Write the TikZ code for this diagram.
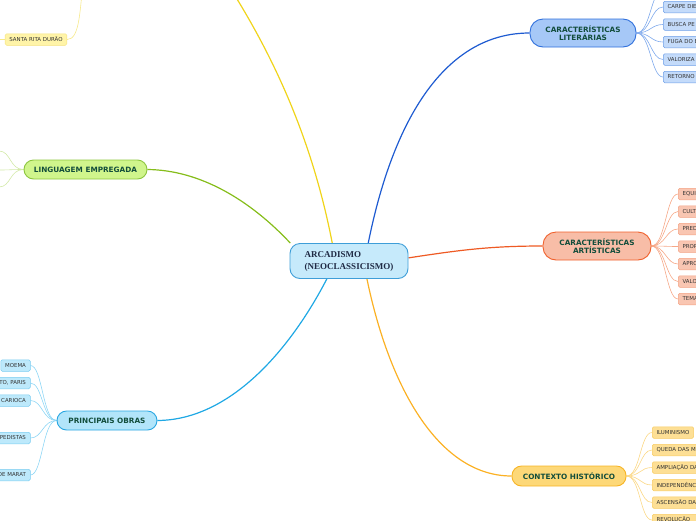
\documentclass[tikz,border=0pt]{standalone}
\usepackage{fontspec}
\setmainfont{DejaVu Sans}
\newfontfamily\hubfont{Liberation Serif}
\usepackage{xcolor}
\usepackage{tikz}
\usetikzlibrary{calc,backgrounds}
\definecolor{HubInk}{HTML}{1F2A44}
\definecolor{HubSoft}{HTML}{C6EAFB}
\definecolor{HubLine}{HTML}{3E9ED8}
\definecolor{TopicInk}{HTML}{124D3B}
\definecolor{LeafInk}{HTML}{333333}
\definecolor{LitSoft}{HTML}{A6C8F7}
\definecolor{LitLine}{HTML}{3070DC}
\definecolor{LitBranch}{HTML}{1E5BD1}
\definecolor{LitLeaf}{HTML}{C4DBFA}
\definecolor{LitEdge}{HTML}{6E9FE8}
\definecolor{LitTwig}{HTML}{7FA9EC}
\definecolor{ArtSoft}{HTML}{F8BDA7}
\definecolor{ArtLine}{HTML}{F0602C}
\definecolor{ArtBranch}{HTML}{EE5A24}
\definecolor{ArtLeaf}{HTML}{F9C6B2}
\definecolor{ArtEdge}{HTML}{F4A283}
\definecolor{ArtTwig}{HTML}{F6A888}
\definecolor{CtxSoft}{HTML}{FDD878}
\definecolor{CtxLine}{HTML}{F7B425}
\definecolor{CtxBranch}{HTML}{FBB124}
\definecolor{CtxLeaf}{HTML}{FDDF95}
\definecolor{CtxEdge}{HTML}{F8CC62}
\definecolor{CtxTwig}{HTML}{FBD886}
\definecolor{ObrSoft}{HTML}{B2E5FA}
\definecolor{ObrLine}{HTML}{2AA7E2}
\definecolor{ObrBranch}{HTML}{1FA8E4}
\definecolor{ObrLeaf}{HTML}{BDE9FB}
\definecolor{ObrEdge}{HTML}{7BCDF1}
\definecolor{ObrTwig}{HTML}{8ED6F5}
\definecolor{LngSoft}{HTML}{D0F58C}
\definecolor{LngLine}{HTML}{8DC63F}
\definecolor{LngBranch}{HTML}{86BD1B}
\definecolor{LngTwig}{HTML}{D3E9A8}
\definecolor{YelBranch}{HTML}{F0D41A}
\definecolor{YelLeaf}{HTML}{FFF4A8}
\definecolor{YelEdge}{HTML}{F5E27C}
\definecolor{YelTwig}{HTML}{F7E98A}
\tikzset{
  hub/.style={rounded corners=10pt,draw=HubLine,fill=HubSoft,line width=0.9pt,minimum width=118pt,minimum height=35pt,inner sep=0pt,align=left,font=\hubfont\bfseries\fontsize{9}{12}\selectfont,text=HubInk},
  topic/.style={rounded corners=9.5pt,line width=0.9pt,inner sep=0pt,align=center,font=\bfseries\fontsize{7.3}{8}\selectfont,text=TopicInk},
  topicblue/.style={topic,rounded corners=13pt,draw=LitLine,fill=LitSoft},
  topicsalmon/.style={topic,rounded corners=13pt,draw=ArtLine,fill=ArtSoft},
  topicgold/.style={topic,draw=CtxLine,fill=CtxSoft},
  topiccyan/.style={topic,draw=ObrLine,fill=ObrSoft},
  topiclime/.style={topic,draw=LngLine,fill=LngSoft},
  leaf/.style={rounded corners=1.5pt,line width=0.5pt,inner xsep=4.3pt,inner ysep=0pt,minimum height=11.5pt,font=\fontsize{5.45}{6}\selectfont,text=LeafInk},
  leafblue/.style={leaf,draw=LitEdge,fill=LitLeaf},
  leafsalmon/.style={leaf,draw=ArtEdge,fill=ArtLeaf},
  leafgold/.style={leaf,draw=CtxEdge,fill=CtxLeaf},
  leafcyan/.style={leaf,draw=ObrEdge,fill=ObrLeaf},
  leafyellow/.style={leaf,draw=YelEdge,fill=YelLeaf},
  cutoff/.style={anchor=west,text width=60pt,align=left},
  branch/.style={line width=1.2pt},
  twig/.style={line width=0.6pt}
}
\begin{document}
\begin{tikzpicture}[x=1pt,y=-1pt]
  \useasboundingbox (0,0) rectangle (696,520);
  \clip (0,0) rectangle (696,520);
  \node[hub] (arc) at (349,261) {ARCADISMO\\(NEOCLASSICISMO)};
  \node[topicblue,minimum width=106pt,minimum height=28pt] (lit) at (583,33) {CARACTERÍSTICAS\\LITERÁRIAS};
  \node[topicsalmon,minimum width=108pt,minimum height=28pt] (art) at (597,246) {CARACTERÍSTICAS\\ARTÍSTICAS};
  \node[topicgold,minimum width=114pt,minimum height=20pt] (cont) at (569,476) {CONTEXTO HISTÓRICO};
  \node[topiccyan,minimum width=100pt,minimum height=19pt] (obras) at (107,420.5) {PRINCIPAIS OBRAS};
  \node[topiclime,minimum width=123pt,minimum height=19pt] (ling) at (85.5,169.5) {LINGUAGEM EMPREGADA};
  \node[leafyellow] (santa) at (36,39.5) {SANTA RITA DURÃO};
  \coordinate (ytop) at (225,-20);
  \coordinate (yparent) at (84,-30);
  \coordinate (santastub) at (-6,39.5);
  \coordinate (lit0) at (663,-10.5);
  \node[leafblue,cutoff] (lit1) at (663,7) {CARPE DIE};
  \node[leafblue,cutoff] (lit2) at (663,24.5) {BUSCA PE};
  \node[leafblue,cutoff] (lit3) at (663,42) {FUGA DO E};
  \node[leafblue,cutoff] (lit4) at (663,59.5) {VALORIZA};
  \node[leafblue,cutoff] (lit5) at (663,77) {RETORNO};
  \node[leafsalmon,cutoff] (art1) at (678,194) {EQUI};
  \node[leafsalmon,cutoff] (art2) at (678,211.5) {CULT};
  \node[leafsalmon,cutoff] (art3) at (678,229) {PRED};
  \node[leafsalmon,cutoff] (art4) at (678,246.5) {PROP};
  \node[leafsalmon,cutoff] (art5) at (678,264) {APRO};
  \node[leafsalmon,cutoff] (art6) at (678,281.5) {VALO};
  \node[leafsalmon,cutoff] (art7) at (678,299) {TEMA};
  \node[leafgold,anchor=west] (cont1) at (652,432.5) {ILUMINISMO};
  \node[leafgold,cutoff] (cont2) at (652,450) {QUEDA DAS M};
  \node[leafgold,cutoff] (cont3) at (652,467.5) {AMPLIAÇÃO DA};
  \node[leafgold,cutoff] (cont4) at (652,485) {INDEPENDÊNC};
  \node[leafgold,cutoff] (cont5) at (652,502.5) {ASCENSÃO DA};
  \node[leafgold,cutoff] (cont6) at (652,520) {REVOLUÇÃO};
  \node[leafcyan,anchor=east] (ob1) at (30.5,365.5) {MOEMA};
  \node[leafcyan,anchor=east] (ob2) at (30.5,383) {TO, PARIS};
  \node[leafcyan,anchor=east] (ob3) at (30.5,400.5) {CARIOCA};
  \node[leafcyan,anchor=east] (ob4) at (30.5,438) {PEDISTAS};
  \node[leafcyan,anchor=east] (ob5) at (30.5,475) {DE MARAT};
  \coordinate (lg1) at (-1,151);
  \coordinate (lg2) at (-1,170);
  \coordinate (lg3) at (-1,187);
  \begin{scope}[on background layer]
    \clip (0,0) rectangle (696,520);
    \draw[branch,draw=LitBranch] (arc.43) .. controls (395,110) and (450,33) .. (lit.west);
    \draw[branch,draw=YelBranch] (arc.133) .. controls (318,170) and (290,80) .. (ytop);
    \draw[branch,draw=LngBranch] (arc.163) .. controls (250,200) and (200,170) .. (ling.east);
    \draw[branch,draw=ObrBranch] (arc.219) .. controls (290,350) and (230,420) .. (obras.east);
    \draw[branch,draw=CtxBranch] (arc.315) .. controls (390,390) and (440,476) .. (cont.west);
    \draw[branch,draw=ArtBranch] (arc.3) .. controls (460,250) and (490,246) .. (art.west);
    \draw[twig,draw=YelTwig] (santa.east) .. controls (80,39.5) and (80,10) .. (yparent);
    \draw[twig,draw=YelTwig] (santa.west) -- (santastub);
    \draw[twig,draw=LitTwig] (lit.east) .. controls +(14,0) and +(-12,0) .. (lit0);
    \draw[twig,draw=LitTwig] (lit.east) .. controls +(14,0) and +(-12,0) .. (lit1.west);
    \draw[twig,draw=LitTwig] (lit.east) .. controls +(14,0) and +(-12,0) .. (lit2.west);
    \draw[twig,draw=LitTwig] (lit.east) .. controls +(14,0) and +(-12,0) .. (lit3.west);
    \draw[twig,draw=LitTwig] (lit.east) .. controls +(14,0) and +(-12,0) .. (lit4.west);
    \draw[twig,draw=LitTwig] (lit.east) .. controls +(14,0) and +(-12,0) .. (lit5.west);
    \draw[twig,draw=ArtTwig] (art.east) .. controls +(14,0) and +(-12,0) .. (art1.west);
    \draw[twig,draw=ArtTwig] (art.east) .. controls +(14,0) and +(-12,0) .. (art2.west);
    \draw[twig,draw=ArtTwig] (art.east) .. controls +(14,0) and +(-12,0) .. (art3.west);
    \draw[twig,draw=ArtTwig] (art.east) .. controls +(14,0) and +(-12,0) .. (art4.west);
    \draw[twig,draw=ArtTwig] (art.east) .. controls +(14,0) and +(-12,0) .. (art5.west);
    \draw[twig,draw=ArtTwig] (art.east) .. controls +(14,0) and +(-12,0) .. (art6.west);
    \draw[twig,draw=ArtTwig] (art.east) .. controls +(14,0) and +(-12,0) .. (art7.west);
    \draw[twig,draw=CtxTwig] (cont.east) .. controls +(14,0) and +(-12,0) .. (cont1.west);
    \draw[twig,draw=CtxTwig] (cont.east) .. controls +(14,0) and +(-12,0) .. (cont2.west);
    \draw[twig,draw=CtxTwig] (cont.east) .. controls +(14,0) and +(-12,0) .. (cont3.west);
    \draw[twig,draw=CtxTwig] (cont.east) .. controls +(14,0) and +(-12,0) .. (cont4.west);
    \draw[twig,draw=CtxTwig] (cont.east) .. controls +(14,0) and +(-12,0) .. (cont5.west);
    \draw[twig,draw=CtxTwig] (cont.east) .. controls +(14,0) and +(-12,0) .. (cont6.west);
    \draw[twig,draw=ObrTwig] (obras.west) .. controls +(-14,0) and +(12,0) .. (ob1.east);
    \draw[twig,draw=ObrTwig] (obras.west) .. controls +(-14,0) and +(12,0) .. (ob2.east);
    \draw[twig,draw=ObrTwig] (obras.west) .. controls +(-14,0) and +(12,0) .. (ob3.east);
    \draw[twig,draw=ObrTwig] (obras.west) .. controls +(-14,0) and +(12,0) .. (ob4.east);
    \draw[twig,draw=ObrTwig] (obras.west) .. controls +(-14,0) and +(12,0) .. (ob5.east);
    \draw[twig,draw=LngTwig] (ling.west) .. controls +(-14,0) and +(12,0) .. (lg1);
    \draw[twig,draw=LngTwig] (ling.west) .. controls +(-14,0) and +(12,0) .. (lg2);
    \draw[twig,draw=LngTwig] (ling.west) .. controls +(-14,0) and +(12,0) .. (lg3);
  \end{scope}
\end{tikzpicture}
\end{document}
